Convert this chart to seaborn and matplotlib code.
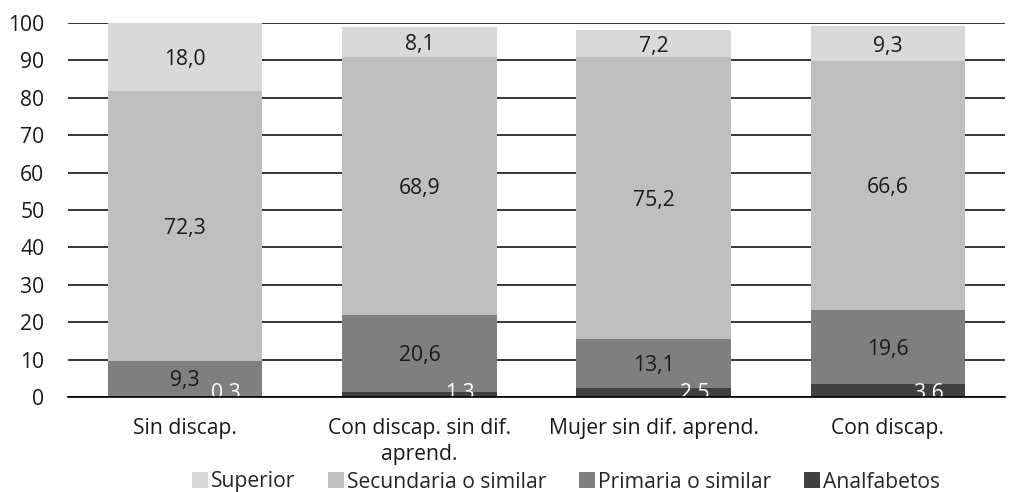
import matplotlib
matplotlib.use("Agg")
import matplotlib.pyplot as plt
import seaborn as sns
import pandas as pd
import numpy as np

categories = ["Sin discap.", "Con discap. sin dif.\naprend.", "Mujer sin dif. aprend.", "Con discap."]
analfabetos = [0.3, 1.3, 2.5, 3.6]
primaria = [9.3, 20.6, 13.1, 19.6]
secundaria = [72.3, 68.9, 75.2, 66.6]
superior = [18.0, 8.1, 7.2, 9.3]

series_names = ["Analfabetos", "Primaria o similar", "Secundaria o similar", "Superior"]
series_vals = [analfabetos, primaria, secundaria, superior]
colors = ["#404040", "#7f7f7f", "#bfbfbf", "#d9d9d9"]
text_colors = ["white", "#1a1a1a", "#1a1a1a", "#1a1a1a"]
yticks = list(range(0, 101, 10))

sns.set_theme(style="white")
plt.rcParams["font.family"] = ["Open Sans", "DejaVu Sans"]
FS = 15.2

fig = plt.figure(figsize=(10.22, 4.92), dpi=100)
ax = fig.add_axes([68/1022, 1-397/492, (1005-68)/1022, (397-23)/492])

bottom = np.zeros(len(categories))
handles = []
for name, vals, col, tc in zip(series_names, series_vals, colors, text_colors):
    vals = np.array(vals)
    bars = ax.bar(np.arange(len(categories)), vals, bottom=bottom, width=0.66,
                  color=col, label=name, zorder=2, linewidth=0)
    handles.append(bars)
    for i, (v, b) in enumerate(zip(vals, bottom)):
        lab = f"{v:.1f}".replace(".", ",")
        if name == "Analfabetos":
            ax.text(i + 0.175, -1.8, lab, ha="center", va="bottom", color=tc,
                    fontsize=FS, zorder=3, clip_on=True)
        else:
            ax.text(i, b + v/2 - 0.6, lab, ha="center", va="center", color=tc,
                    fontsize=FS, zorder=3)
    bottom = bottom + vals

ax.set_ylim(0, 100)
ax.set_xlim(-0.5, len(categories) - 0.5)
ax.set_yticks(yticks)
ax.set_yticklabels([str(t) for t in yticks], fontsize=FS, color="#1a1a1a")
ax.yaxis.grid(True, color="black", linewidth=1.1, zorder=0)
ax.set_axisbelow(True)
ax.set_xticks(np.arange(len(categories)))
ax.set_xticklabels(categories, fontsize=FS, color="#1a1a1a", linespacing=1.35)
ax.tick_params(axis="x", length=0, pad=15)
ax.tick_params(axis="y", length=0, pad=17)
ax.set_xticks(np.arange(len(categories) + 1) - 0.5, minor=True)
ax.tick_params(axis="x", which="minor", length=7, width=1.2, color="black", direction="out")
for s in ["top", "right", "left"]:
    ax.spines[s].set_visible(False)
ax.spines["bottom"].set_color("black")
ax.spines["bottom"].set_linewidth(1.2)
ax.spines["bottom"].set_zorder(4)

leg_h = handles[::-1]
fig.legend(leg_h, [h.get_label() for h in leg_h], loc="center", bbox_to_anchor=(566/1022, 1-482/492),
           ncol=4, frameon=False, fontsize=FS, handlelength=0.75, handleheight=0.75,
           handletextpad=0.15, columnspacing=1.55)

fig.savefig("out.png", dpi=100)
